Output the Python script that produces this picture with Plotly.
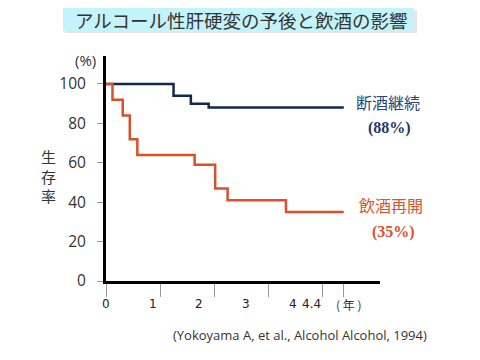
import plotly.graph_objects as go

# ---- data ----
abstain_t = [0, 1.25, 1.57, 1.9, 4.4]
abstain_s = [100, 94, 90, 88, 88]
relapse_t = [0, 0.12, 0.31, 0.44, 0.58, 1.64, 2.02, 2.25, 3.33, 4.4]
relapse_s = [100, 92, 84, 72, 64, 59, 47, 41, 35, 35]
x_tickvals = [0, 1, 2, 3, 4, 4.4]
x_ticktext = ["0", "1", "2", "3", "4", "4.4"]
y_tickvals = [0, 20, 40, 60, 80, 100]

title_text = "アルコール性肝硬変の予後と飲酒の影響"
abstain_name = "断酒継続"
abstain_pct = "(88%)"
relapse_name = "飲酒再開"
relapse_pct = "(35%)"
citation = "(Yokoyama A, et al., Alcohol Alcohol, 1994)"

NAVY = "#13294b"
RED = "#d9502b"
CJK = "Noto Sans CJK JP"

fig = go.Figure()
fig.add_trace(go.Scatter(x=abstain_t, y=abstain_s, mode="lines",
                         line=dict(color=NAVY, width=2.5, shape="hv"),
                         showlegend=False, hoverinfo="skip"))
fig.add_trace(go.Scatter(x=relapse_t, y=relapse_s, mode="lines",
                         line=dict(color=RED, width=2.5, shape="hv"),
                         showlegend=False, hoverinfo="skip"))

XMAX = 5.07
fig.update_layout(
    width=480, height=360,
    margin=dict(l=106, r=100, t=56, b=79),
    paper_bgcolor="white", plot_bgcolor="white",
    xaxis=dict(range=[0, XMAX], tickvals=x_tickvals, showticklabels=False,
               ticks="outside", ticklen=13, tickwidth=1, tickcolor="#999",
               showline=True, linecolor="black", linewidth=3,
               showgrid=False, zeroline=False),
    yaxis=dict(range=[0, 114.2], tickvals=y_tickvals,
               ticks="outside", ticklen=14, tickwidth=1, tickcolor="rgba(0,0,0,0)",
               minor=dict(tickvals=y_tickvals, ticks="outside", ticklen=6,
                          tickwidth=1, tickcolor="#999", showgrid=False),
               tickfont=dict(family="Open Sans", size=15.5, color="#333"),
               showline=True, linecolor="black", linewidth=3,
               showgrid=False, zeroline=False),
)

def px_x(px):
    return (px - 106) / 274.0

def px_y(py):
    return (281 - py) / 225.0

fig.add_shape(type="rect", xref="paper", yref="paper",
              x0=px_x(65), x1=px_x(417), y0=px_y(33), y1=px_y(10),
              fillcolor="#e6e6e6", line=dict(width=0), layer="below")
fig.add_shape(type="rect", xref="paper", yref="paper",
              x0=px_x(63), x1=px_x(414), y0=px_y(31), y1=px_y(8),
              fillcolor="#c4f4fb", line=dict(width=0), layer="below")

def note(text, px, py, family, size, color):
    return dict(text=text, xref="paper", yref="paper", x=px_x(px), y=px_y(py),
                xanchor="center", yanchor="middle", showarrow=False,
                font=dict(family=family, size=size, color=color))

LABEL_SCALE = 46.7 / 54
ann = [dict(text=t, xref="x", yref="paper", x=v * LABEL_SCALE, y=px_y(304),
            xanchor="center", yanchor="middle", showarrow=False,
            font=dict(family="DejaVu Sans", size=12, color="#222"))
       for v, t in zip(x_tickvals, x_ticktext)]

ann += [
    note(title_text, 241, 20, CJK, 18.5, "#333"),
    note("(%)", 85, 60, "Open Sans", 15, "#333"),
    note("生<br>存<br>率", 48, 176, CJK, 15, "#333"),
    note("( 年 )", 349, 304, CJK, 12, "#333"),
    note(abstain_name, 388, 102, CJK, 16, "#2a4676"),
    note("<b>" + abstain_pct + "</b>", 389, 128, "Liberation Serif", 16, "#1f3864"),
    note(relapse_name, 391, 205, CJK, 16, "#e0512c"),
    note("<b>" + relapse_pct + "</b>", 393, 232, "Liberation Serif", 16, "#d9502b"),
    note(citation, 300, 335, "Open Sans", 13, "#333"),
]
fig.update_layout(annotations=ann)

fig.write_html("out.html", config={"displayModeBar": False},
               post_script="document.body.style.margin='0';")
